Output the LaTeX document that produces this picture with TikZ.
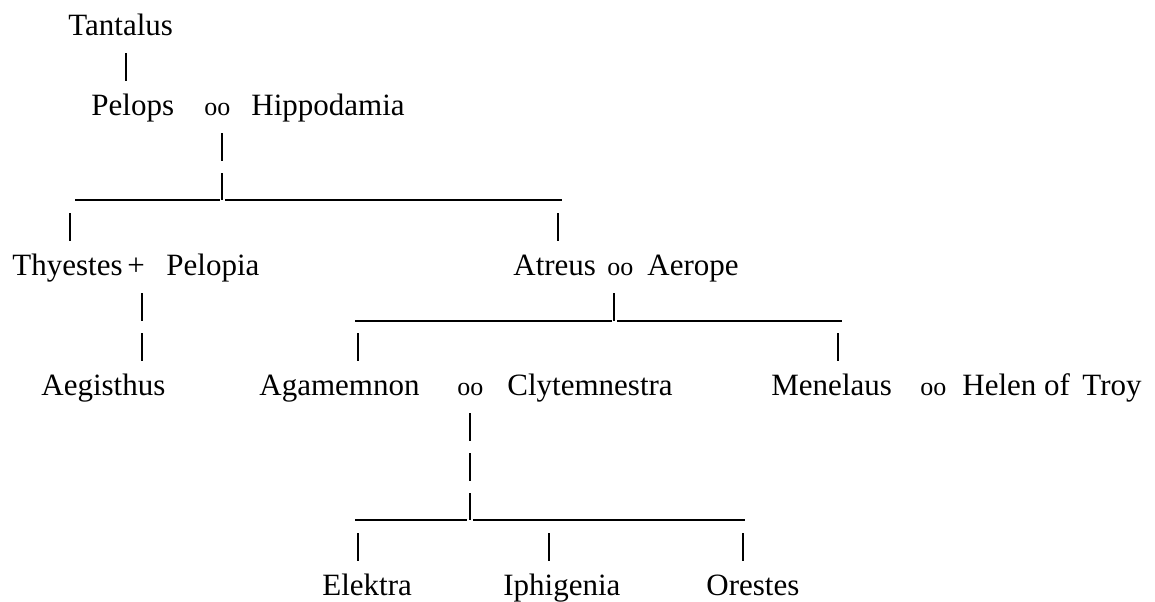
\documentclass[tikz,border=0pt]{standalone}
\usepackage{fontspec}
\setmainfont{Liberation Serif}
\usepackage{tikz}
\usetikzlibrary{positioning,calc}

\tikzset{
  person/.style={anchor=base west, inner sep=0pt, font=\fontsize{15.5}{18}\selectfont},
  wed/.style={anchor=base west, inner sep=0pt, font=\fontsize{13}{15}\selectfont},
  bar/.style={line width=0.7pt},
}
% one ascii "|" standing on the baseline b at x
\newcommand{\vbar}[2]{\draw[bar] (#1,#2-22) -- (#1,#2+6);}

\begin{document}
\begin{tikzpicture}[x=0.5pt,y=-0.5pt]
    \useasboundingbox (0,0) rectangle (1155,601);

    % Tantalus and Pelops
    \node[person] (tantalus) at (68,35) {Tantalus};
    \vbar{126}{75}
    \node[person] (pelops) at (91,115) {Pelops};
    \node[wed] (oo1) at (204,115) {oo};
    \node[person] (hippodamia) at (251,115) {Hippodamia};
    \vbar{222}{155}
    \draw[bar] (222,173) -- (222,200);
    \draw[bar] (75,200) -- (220,200) (225,200) -- (562,200);
    \vbar{70}{235}
    \vbar{558}{235}

    % the two sons
    \node[person] (thyestes) at (12,275) {Thyestes};
    \node[person] (plus) at (127,275) {+};
    \node[person] (pelopia) at (166,275) {Pelopia};
    \node[person] (atreus) at (513,275) {Atreus};
    \node[wed] (oo2) at (607,275) {oo};
    \node[person] (aerope) at (647,275) {Aerope};
    \vbar{142}{315}
    \vbar{142}{355}
    \draw[bar] (614,293) -- (614,321);
    \draw[bar] (355,321) -- (612,321) (617,321) -- (842,321);
    \vbar{358}{355}
    \vbar{838}{355}

    % grandchildren
    \node[person] (aegisthus) at (41,395) {Aegisthus};
    \node[person] (agamemnon) at (259,395) {Agamemnon};
    \node[wed] (oo3) at (457,395) {oo};
    \node[person] (clytemnestra) at (507,395) {Clytemnestra};
    \node[person] (menelaus) at (771,395) {Menelaus};
    \node[wed] (oo4) at (920,395) {oo};
    \node[person] (helen) at (962,395) {Helen of\hspace{0.15em} Troy};
    \vbar{470}{435}
    \vbar{470}{475}
    \draw[bar] (470,493) -- (470,520);
    \draw[bar] (355,520) -- (467,520) (473,520) -- (745,520);
    \vbar{358}{555}
    \vbar{549}{555}
    \vbar{743}{555}

    % children of Agamemnon
    \node[person] (elektra) at (322,595) {Elektra};
    \node[person] (iphigenia) at (503,595) {Iphigenia};
    \node[person] (orestes) at (706,595) {Orestes};
\end{tikzpicture}
\end{document}
